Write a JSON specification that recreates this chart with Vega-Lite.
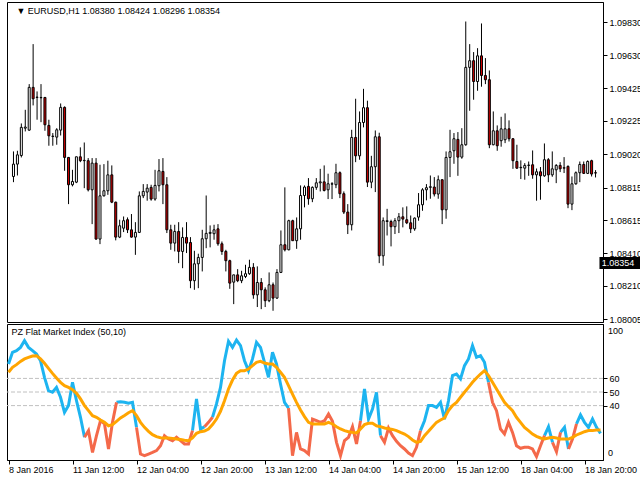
{
"$schema": "https://vega.github.io/schema/vega-lite/v6.json",
"padding": {"top": 1, "left": 2, "right": 42, "bottom": 21},
"background": "white",
"spacing": 2,
"bounds": "flush",
"config": {
  "view": {"stroke": "black", "strokeWidth": 1},
  "font": "Liberation Sans",
  "axis": {"labelFont": "Liberation Sans", "labelFontSize": 9, "labelColor": "black", "tickColor": "black", "domainColor": "black", "tickSize": 4, "grid": false, "title": null, "labelOverlap": false, "labelFlush": false, "labelBound": false, "labelSeparation": 0}
},
"datasets": {"one": [{"n": 1}]},
"data": {"values": [
{"k":0,"o":1.08883,"h":1.09037,"l":1.08848,"c":1.08959,"up":70.6,"sig":64.5},
{"k":1,"o":1.08959,"h":1.09041,"l":1.08889,"c":1.09016,"up":79.2,"sig":68.1},
{"k":2,"o":1.09012,"h":1.09209,"l":1.09000,"c":1.09185,"up":80.4,"sig":70.1},
{"k":3,"o":1.09180,"h":1.09293,"l":1.09160,"c":1.09187,"up":82.8,"sig":72.5},
{"k":4,"o":1.09168,"h":1.09451,"l":1.09164,"c":1.09431,"up":87.7,"sig":74.3},
{"k":5,"o":1.09431,"h":1.09697,"l":1.09320,"c":1.09361,"up":82.8,"sig":75.5},
{"k":6,"o":1.09369,"h":1.09406,"l":1.09232,"c":1.09371,"up":80.4,"sig":76.5},
{"k":7,"o":1.09369,"h":1.09451,"l":1.09217,"c":1.09367,"up":77.9,"sig":76.7},
{"k":8,"o":1.09369,"h":1.09372,"l":1.09164,"c":1.09201,"up":73.0,"sig":74.3},
{"k":9,"o":1.09197,"h":1.09232,"l":1.09072,"c":1.09133,"up":60.8,"sig":71.1},
{"k":10,"o":1.09129,"h":1.09150,"l":1.09072,"c":1.09131,"up":51.0,"sig":67.4},
{"k":11,"o":1.09125,"h":1.09180,"l":1.09078,"c":1.09170,"up":49.8,"sig":63.7},
{"k":12,"o":1.09168,"h":1.09332,"l":1.09135,"c":1.09308,"up":53.4,"sig":60.3},
{"k":13,"o":1.09308,"h":1.09314,"l":1.08918,"c":1.09000,"up":46.1,"sig":57.1},
{"k":14,"o":1.09000,"h":1.09003,"l":1.08713,"c":1.08832,"up":35.0,"sig":54.7},
{"k":15,"o":1.08832,"h":1.08924,"l":1.08822,"c":1.08852,"up":40.0,"sig":53.4},
{"k":16,"o":1.08848,"h":1.09004,"l":1.08842,"c":1.09004,"up":57.1,"sig":51.7},
{"k":17,"o":1.09004,"h":1.09062,"l":1.08971,"c":1.08980,"up":43.6,"sig":49.0},
{"k":18,"o":1.08980,"h":1.09092,"l":1.08811,"c":1.08982,"up":31.4,"sig":44.9},
{"k":19,"o":1.08980,"h":1.08996,"l":1.08791,"c":1.08801,"up":16.7,"dn":16.7,"sig":40.0},
{"k":20,"o":1.08801,"h":1.08996,"l":1.08590,"c":1.08965,"dn":21.6,"sig":36.3},
{"k":21,"o":1.08965,"h":1.08996,"l":1.08494,"c":1.08498,"dn":5.6,"sig":32.6},
{"k":22,"o":1.08498,"h":1.08955,"l":1.08467,"c":1.08764,"dn":17.9,"sig":31.4},
{"k":23,"o":1.08764,"h":1.08959,"l":1.08760,"c":1.08795,"dn":28.9,"sig":29.4},
{"k":24,"o":1.08795,"h":1.08980,"l":1.08770,"c":1.08893,"dn":26.5,"sig":27.7},
{"k":25,"o":1.08893,"h":1.08951,"l":1.08719,"c":1.08725,"dn":8.1,"sig":25.2},
{"k":26,"o":1.08725,"h":1.08728,"l":1.08490,"c":1.08510,"dn":27.7,"sig":26.0},
{"k":27,"o":1.08510,"h":1.08617,"l":1.08504,"c":1.08580,"up":42.4,"dn":42.4,"sig":28.4},
{"k":28,"o":1.08565,"h":1.08637,"l":1.08541,"c":1.08611,"up":42.9,"sig":30.9},
{"k":29,"o":1.08617,"h":1.08631,"l":1.08535,"c":1.08555,"up":42.4,"sig":32.8},
{"k":30,"o":1.08555,"h":1.08652,"l":1.08507,"c":1.08510,"up":41.7,"sig":34.8},
{"k":31,"o":1.08510,"h":1.08602,"l":1.08401,"c":1.08539,"up":42.4,"sig":36.3},
{"k":32,"o":1.08539,"h":1.08791,"l":1.08535,"c":1.08764,"up":24.0,"dn":24.0,"sig":32.6},
{"k":33,"o":1.08764,"h":1.08836,"l":1.08750,"c":1.08791,"dn":4.4,"sig":27.7},
{"k":34,"o":1.08787,"h":1.08836,"l":1.08734,"c":1.08811,"dn":3.2,"sig":24.0},
{"k":35,"o":1.08816,"h":1.08832,"l":1.08734,"c":1.08744,"dn":4.4,"sig":21.1},
{"k":36,"o":1.08744,"h":1.08924,"l":1.08734,"c":1.08828,"dn":5.6,"sig":18.6},
{"k":37,"o":1.08826,"h":1.08990,"l":1.08791,"c":1.08918,"dn":6.9,"sig":17.2},
{"k":38,"o":1.08914,"h":1.08996,"l":1.08713,"c":1.08832,"dn":10.5,"sig":16.4},
{"k":39,"o":1.08832,"h":1.08879,"l":1.08535,"c":1.08555,"dn":17.9,"sig":16.2},
{"k":40,"o":1.08555,"h":1.08586,"l":1.08432,"c":1.08473,"dn":15.4,"sig":16.2},
{"k":41,"o":1.08473,"h":1.08586,"l":1.08422,"c":1.08545,"dn":14.2,"sig":15.9},
{"k":42,"o":1.08545,"h":1.08602,"l":1.08350,"c":1.08422,"dn":16.7,"sig":15.4},
{"k":43,"o":1.08422,"h":1.08570,"l":1.08319,"c":1.08508,"dn":14.2,"sig":15.0},
{"k":44,"o":1.08508,"h":1.08602,"l":1.08412,"c":1.08473,"dn":11.8,"sig":14.5},
{"k":45,"o":1.08477,"h":1.08510,"l":1.08196,"c":1.08242,"dn":11.8,"sig":14.2},
{"k":46,"o":1.08242,"h":1.08426,"l":1.08186,"c":1.08346,"up":21.6,"dn":21.6,"sig":16.2},
{"k":47,"o":1.08346,"h":1.08408,"l":1.08196,"c":1.08385,"up":44.9,"sig":19.6},
{"k":48,"o":1.08385,"h":1.08555,"l":1.08299,"c":1.08500,"up":22.8,"sig":20.8},
{"k":49,"o":1.08500,"h":1.08766,"l":1.08442,"c":1.08533,"up":24.5,"dn":24.5,"sig":21.3},
{"k":50,"o":1.08533,"h":1.08582,"l":1.08447,"c":1.08539,"dn":27.7,"sig":22.8},
{"k":51,"o":1.08531,"h":1.08586,"l":1.08494,"c":1.08555,"up":31.4,"dn":31.4,"sig":26.0},
{"k":52,"o":1.08561,"h":1.08590,"l":1.08457,"c":1.08469,"up":41.2,"sig":30.1},
{"k":53,"o":1.08469,"h":1.08483,"l":1.08401,"c":1.08422,"up":53.4,"sig":35.8},
{"k":54,"o":1.08422,"h":1.08432,"l":1.08299,"c":1.08365,"up":73.0,"sig":43.6},
{"k":55,"o":1.08365,"h":1.08371,"l":1.08192,"c":1.08227,"up":87.3,"sig":52.2},
{"k":56,"o":1.08233,"h":1.08278,"l":1.08098,"c":1.08278,"up":82.8,"sig":58.8},
{"k":57,"o":1.08278,"h":1.08313,"l":1.08233,"c":1.08242,"up":88.2,"sig":63.7},
{"k":58,"o":1.08242,"h":1.08303,"l":1.08227,"c":1.08272,"up":84.1,"sig":65.7},
{"k":59,"o":1.08268,"h":1.08340,"l":1.08258,"c":1.08285,"up":73.0,"sig":65.7},
{"k":60,"o":1.08285,"h":1.08371,"l":1.08278,"c":1.08324,"up":65.7,"sig":66.9},
{"k":61,"o":1.08324,"h":1.08350,"l":1.08131,"c":1.08155,"up":74.3,"sig":69.4},
{"k":62,"o":1.08155,"h":1.08330,"l":1.08080,"c":1.08231,"up":86.5,"sig":71.8},
{"k":63,"o":1.08231,"h":1.08258,"l":1.08067,"c":1.08186,"up":82.8,"sig":72.5},
{"k":64,"o":1.08186,"h":1.08201,"l":1.08080,"c":1.08119,"up":71.8,"sig":71.3},
{"k":65,"o":1.08119,"h":1.08293,"l":1.08110,"c":1.08217,"up":60.8,"sig":70.6},
{"k":66,"o":1.08217,"h":1.08231,"l":1.08057,"c":1.08135,"up":79.2,"sig":70.6},
{"k":67,"o":1.08135,"h":1.08313,"l":1.08131,"c":1.08293,"up":70.6,"sig":68.1},
{"k":68,"o":1.08293,"h":1.08551,"l":1.08289,"c":1.08463,"up":55.9,"sig":64.5},
{"k":69,"o":1.08463,"h":1.08816,"l":1.08422,"c":1.08432,"up":42.4,"sig":60.8},
{"k":70,"o":1.08432,"h":1.08617,"l":1.08429,"c":1.08611,"up":38.2,"dn":38.2,"sig":54.7},
{"k":71,"o":1.08611,"h":1.08617,"l":1.08488,"c":1.08488,"dn":3.2,"sig":48.5},
{"k":72,"o":1.08488,"h":1.08631,"l":1.08438,"c":1.08561,"dn":20.3,"sig":42.4},
{"k":73,"o":1.08561,"h":1.08828,"l":1.08494,"c":1.08766,"dn":8.1,"sig":36.8},
{"k":74,"o":1.08766,"h":1.08828,"l":1.08693,"c":1.08818,"dn":6.9,"sig":31.9},
{"k":75,"o":1.08822,"h":1.08873,"l":1.08709,"c":1.08746,"dn":4.4,"sig":27.7},
{"k":76,"o":1.08746,"h":1.08822,"l":1.08725,"c":1.08816,"dn":30.1,"sig":26.5},
{"k":77,"o":1.08816,"h":1.08873,"l":1.08801,"c":1.08844,"dn":28.9,"sig":26.5},
{"k":78,"o":1.08844,"h":1.08930,"l":1.08791,"c":1.08850,"dn":27.7,"sig":26.5},
{"k":79,"o":1.08850,"h":1.08951,"l":1.08791,"c":1.08797,"dn":28.9,"sig":26.5},
{"k":80,"o":1.08801,"h":1.08900,"l":1.08744,"c":1.08838,"dn":33.8,"sig":27.7},
{"k":81,"o":1.08836,"h":1.08848,"l":1.08744,"c":1.08838,"dn":28.4,"sig":26.5},
{"k":82,"o":1.08832,"h":1.08961,"l":1.08811,"c":1.08906,"dn":13.0,"sig":24.5},
{"k":83,"o":1.08906,"h":1.08914,"l":1.08750,"c":1.08777,"dn":3.2,"sig":22.8},
{"k":84,"o":1.08777,"h":1.08791,"l":1.08652,"c":1.08664,"dn":14.2,"sig":21.6},
{"k":85,"o":1.08664,"h":1.08713,"l":1.08529,"c":1.08586,"dn":16.7,"sig":20.8},
{"k":86,"o":1.08586,"h":1.09170,"l":1.08551,"c":1.09123,"dn":24.5,"sig":20.3},
{"k":87,"o":1.09123,"h":1.09361,"l":1.08971,"c":1.09010,"dn":11.8,"sig":19.9},
{"k":88,"o":1.09010,"h":1.09283,"l":1.08986,"c":1.09215,"up":28.9,"dn":28.9,"sig":22.8},
{"k":89,"o":1.09215,"h":1.09422,"l":1.09185,"c":1.09306,"up":52.2,"sig":26.0},
{"k":90,"o":1.09306,"h":1.09349,"l":1.08818,"c":1.08848,"up":30.1,"sig":27.0},
{"k":91,"o":1.08848,"h":1.09010,"l":1.08811,"c":1.08943,"up":37.5,"sig":27.0},
{"k":92,"o":1.08943,"h":1.09166,"l":1.08787,"c":1.09127,"up":49.8,"sig":25.2},
{"k":93,"o":1.09127,"h":1.09152,"l":1.08350,"c":1.08395,"up":17.9,"dn":17.9,"sig":24.5},
{"k":94,"o":1.08395,"h":1.08631,"l":1.08334,"c":1.08611,"dn":13.0,"sig":23.5},
{"k":95,"o":1.08606,"h":1.08684,"l":1.08520,"c":1.08611,"dn":23.5,"sig":23.0},
{"k":96,"o":1.08606,"h":1.08617,"l":1.08453,"c":1.08574,"dn":17.9,"sig":22.5},
{"k":97,"o":1.08574,"h":1.08627,"l":1.08529,"c":1.08611,"dn":13.7,"sig":21.6},
{"k":98,"o":1.08611,"h":1.08658,"l":1.08535,"c":1.08635,"dn":10.5,"sig":20.3},
{"k":99,"o":1.08635,"h":1.08693,"l":1.08570,"c":1.08621,"dn":8.1,"sig":19.1},
{"k":100,"o":1.08617,"h":1.08699,"l":1.08590,"c":1.08598,"dn":5.1,"sig":17.2},
{"k":101,"o":1.08598,"h":1.08643,"l":1.08535,"c":1.08561,"dn":3.2,"sig":14.7},
{"k":102,"o":1.08561,"h":1.08631,"l":1.08549,"c":1.08627,"dn":9.3,"sig":13.0},
{"k":103,"o":1.08633,"h":1.08781,"l":1.08611,"c":1.08709,"up":21.6,"dn":21.6,"sig":13.7},
{"k":104,"o":1.08709,"h":1.08811,"l":1.08672,"c":1.08801,"up":28.9,"sig":17.9},
{"k":105,"o":1.08801,"h":1.08836,"l":1.08736,"c":1.08814,"up":40.0,"sig":21.1},
{"k":106,"o":1.08816,"h":1.08889,"l":1.08746,"c":1.08820,"up":40.0,"sig":24.5},
{"k":107,"o":1.08818,"h":1.08879,"l":1.08760,"c":1.08775,"up":38.7,"sig":27.7},
{"k":108,"o":1.08775,"h":1.08889,"l":1.08746,"c":1.08863,"up":42.4,"sig":29.4},
{"k":109,"o":1.08863,"h":1.08866,"l":1.08590,"c":1.08678,"up":30.1,"sig":30.9},
{"k":110,"o":1.08678,"h":1.09037,"l":1.08623,"c":1.09000,"up":43.6,"sig":36.3},
{"k":111,"o":1.09000,"h":1.09170,"l":1.08879,"c":1.09035,"up":62.0,"sig":40.0},
{"k":112,"o":1.09041,"h":1.09150,"l":1.08961,"c":1.09115,"up":63.2,"sig":42.4},
{"k":113,"o":1.09111,"h":1.09156,"l":1.08887,"c":1.09002,"up":59.6,"sig":46.1},
{"k":114,"o":1.09002,"h":1.09180,"l":1.08992,"c":1.09078,"up":69.4,"sig":49.8},
{"k":115,"o":1.09078,"h":1.09836,"l":1.09072,"c":1.09554,"up":74.3,"sig":53.4},
{"k":116,"o":1.09554,"h":1.09697,"l":1.09287,"c":1.09595,"up":84.1,"sig":57.1},
{"k":117,"o":1.09595,"h":1.09648,"l":1.09355,"c":1.09467,"up":75.5,"sig":60.3},
{"k":118,"o":1.09467,"h":1.09672,"l":1.09410,"c":1.09625,"up":76.7,"sig":63.2},
{"k":119,"o":1.09625,"h":1.09824,"l":1.09435,"c":1.09504,"up":71.8,"sig":65.7},
{"k":120,"o":1.09504,"h":1.09611,"l":1.09451,"c":1.09478,"up":57.1,"dn":57.1,"sig":62.0},
{"k":121,"o":1.09478,"h":1.09535,"l":1.09057,"c":1.09078,"dn":42.4,"sig":57.1},
{"k":122,"o":1.09078,"h":1.09283,"l":1.09075,"c":1.09164,"dn":36.3,"sig":52.2},
{"k":123,"o":1.09164,"h":1.09197,"l":1.09041,"c":1.09072,"dn":22.8,"sig":47.3},
{"k":124,"o":1.09103,"h":1.09250,"l":1.09066,"c":1.09176,"dn":19.1,"sig":42.4},
{"k":125,"o":1.09109,"h":1.09271,"l":1.09088,"c":1.09176,"dn":27.7,"sig":39.2},
{"k":126,"o":1.09176,"h":1.09228,"l":1.09098,"c":1.09115,"dn":20.3,"sig":36.3},
{"k":127,"o":1.09115,"h":1.09119,"l":1.08930,"c":1.08980,"dn":10.5,"sig":31.4},
{"k":128,"o":1.08975,"h":1.09078,"l":1.08930,"c":1.08934,"dn":8.6,"sig":27.7},
{"k":129,"o":1.08937,"h":1.08982,"l":1.08867,"c":1.08939,"dn":9.3,"sig":24.0},
{"k":130,"o":1.08934,"h":1.08965,"l":1.08863,"c":1.08951,"dn":9.3,"sig":21.6},
{"k":131,"o":1.08951,"h":1.08975,"l":1.08887,"c":1.08953,"dn":8.1,"sig":19.1},
{"k":132,"o":1.08955,"h":1.09043,"l":1.08869,"c":1.08893,"dn":2.5,"sig":17.4},
{"k":133,"o":1.08893,"h":1.08932,"l":1.08734,"c":1.08912,"dn":10.5,"sig":16.2},
{"k":134,"o":1.08912,"h":1.08941,"l":1.08740,"c":1.08887,"up":17.9,"dn":17.9,"sig":15.4},
{"k":135,"o":1.08887,"h":1.09086,"l":1.08881,"c":1.08986,"up":24.5,"sig":16.2},
{"k":136,"o":1.08986,"h":1.08996,"l":1.08848,"c":1.08893,"up":13.0,"dn":13.0,"sig":16.7},
{"k":137,"o":1.08893,"h":1.09037,"l":1.08881,"c":1.08930,"dn":6.1,"sig":16.2},
{"k":138,"o":1.08924,"h":1.08959,"l":1.08842,"c":1.08951,"up":20.3,"dn":20.3,"sig":15.4},
{"k":139,"o":1.08951,"h":1.08971,"l":1.08910,"c":1.08930,"up":24.0,"sig":15.4},
{"k":140,"o":1.08934,"h":1.09002,"l":1.08904,"c":1.08937,"up":8.1,"dn":8.1,"sig":15.4},
{"k":141,"o":1.08945,"h":1.08951,"l":1.08688,"c":1.08713,"dn":15.4,"sig":16.7},
{"k":142,"o":1.08713,"h":1.08883,"l":1.08676,"c":1.08838,"up":26.5,"dn":26.5,"sig":18.4},
{"k":143,"o":1.08838,"h":1.08914,"l":1.08832,"c":1.08906,"up":33.1,"sig":19.6},
{"k":144,"o":1.08906,"h":1.08975,"l":1.08848,"c":1.08957,"up":27.7,"sig":20.8},
{"k":145,"o":1.08957,"h":1.08975,"l":1.08898,"c":1.08902,"up":24.0,"sig":21.6},
{"k":146,"o":1.08902,"h":1.08982,"l":1.08898,"c":1.08975,"up":30.1,"sig":21.6},
{"k":147,"o":1.08980,"h":1.08986,"l":1.08883,"c":1.08898,"up":24.0,"sig":22.1},
{"k":148,"o":1.08906,"h":1.08922,"l":1.08877,"c":1.08904,"up":19.6,"sig":22.1}
]},
"vconcat": [
{
  "width": 596,
  "height": 320,
  "layer": [
    {
      "mark": {"type": "rule", "color": "black", "strokeWidth": 1},
      "encoding": {
        "x": {"field": "k", "type": "quantitative", "scale": {"domain": [-0.375, 148.625], "nice": false, "zero": false}, "axis": null},
        "y": {"field": "l", "type": "quantitative", "scale": {"domain": [1.07988, 1.09956], "nice": false, "zero": false},
              "axis": {"orient": "right", "values": [1.08005, 1.0821, 1.0841, 1.08615, 1.08815, 1.0902, 1.09225, 1.09425, 1.0963, 1.0983], "tickCount": 30, "format": ".5f", "labelPadding": 2, "labelOverlap": false, "labelSeparation": 0, "labelFontSize": 9}},
        "y2": {"field": "h"}
      }
    },
    {
      "mark": {"type": "bar", "width": 2, "stroke": "black", "strokeWidth": 1},
      "encoding": {
        "x": {"field": "k", "type": "quantitative"},
        "y": {"field": "o", "type": "quantitative"},
        "y2": {"field": "c"},
        "fill": {"condition": {"test": "datum.c < datum.o", "value": "#cc0000"}, "value": "white"}
      }
    },
    {
      "data": {"name": "one"},
      "mark": {"type": "text", "align": "left", "baseline": "middle", "fontSize": 9, "font": "Liberation Sans", "color": "black"},
      "encoding": {
        "x": {"datum": 0.75},
        "y": {"datum": 1.09898},
        "text": {"value": "▼ EURUSD,H1  1.08380 1.08424 1.08296 1.08354"}
      }
    },
    {
      "data": {"name": "one"},
      "mark": {"type": "rect", "color": "black"},
      "encoding": {
        "x": {"datum": 149},
        "x2": {"datum": 159.5},
        "y": {"datum": 1.08388},
        "y2": {"datum": 1.08314}
      }
    },
    {
      "data": {"name": "one"},
      "mark": {"type": "text", "align": "left", "baseline": "middle", "fontSize": 9, "font": "Liberation Sans", "color": "white"},
      "encoding": {
        "x": {"datum": 149.6},
        "y": {"datum": 1.08351},
        "text": {"value": "1.08354"}
      }
    }
  ]
},
{
  "width": 596,
  "height": 136,
  "layer": [
    {
      "data": {"values": [{"level": 40}, {"level": 50}, {"level": 60}]},
      "mark": {"type": "rule", "color": "#c0c0c0", "strokeDash": [4, 2], "strokeWidth": 1},
      "encoding": {
        "y": {"field": "level", "type": "quantitative", "scale": {"domain": [0, 100], "nice": false, "zero": false},
              "axis": {"orient": "right", "values": [40, 50, 60], "tickCount": 30, "labelPadding": 2, "labelOverlap": false}}
      }
    },
    {
      "mark": {"type": "line", "color": "#1db4f0", "strokeWidth": 3},
      "encoding": {
        "x": {"field": "k", "type": "quantitative", "scale": {"domain": [-0.375, 148.625], "nice": false, "zero": false},
              "axis": {"orient": "bottom", "values": [0, 16, 32, 48, 64, 80, 96, 112, 128, 144], "labelAlign": "left", "labelPadding": 1, "labelOverlap": false,
                       "labelExpr": "['8 Jan 2016','11 Jan 12:00','12 Jan 04:00','12 Jan 20:00','13 Jan 12:00','14 Jan 04:00','14 Jan 20:00','15 Jan 12:00','18 Jan 04:00','18 Jan 20:00'][round(datum.value / 16)]"}},
        "y": {"field": "up", "type": "quantitative"}
      }
    },
    {
      "mark": {"type": "line", "color": "#f4694a", "strokeWidth": 3},
      "encoding": {
        "x": {"field": "k", "type": "quantitative"},
        "y": {"field": "dn", "type": "quantitative"}
      }
    },
    {
      "mark": {"type": "line", "color": "#ffa500", "strokeWidth": 3},
      "encoding": {
        "x": {"field": "k", "type": "quantitative"},
        "y": {"field": "sig", "type": "quantitative"}
      }
    },
    {
      "data": {"name": "one"},
      "mark": {"type": "text", "align": "left", "baseline": "middle", "fontSize": 9, "font": "Liberation Sans", "color": "black"},
      "encoding": {
        "x": {"datum": 0.75},
        "y": {"datum": 94},
        "text": {"value": "PZ Flat Market Index (50,10)"}
      }
    },
    {
      "data": {"name": "one"},
      "mark": {"type": "text", "align": "left", "baseline": "middle", "fontSize": 9, "font": "Liberation Sans", "color": "black"},
      "encoding": {
        "x": {"datum": 149.9},
        "y": {"datum": 95},
        "text": {"value": "100"}
      }
    },
    {
      "data": {"name": "one"},
      "mark": {"type": "text", "align": "left", "baseline": "middle", "fontSize": 9, "font": "Liberation Sans", "color": "black"},
      "encoding": {
        "x": {"datum": 149.9},
        "y": {"datum": 5},
        "text": {"value": "0"}
      }
    }
  ]
}
]
}
